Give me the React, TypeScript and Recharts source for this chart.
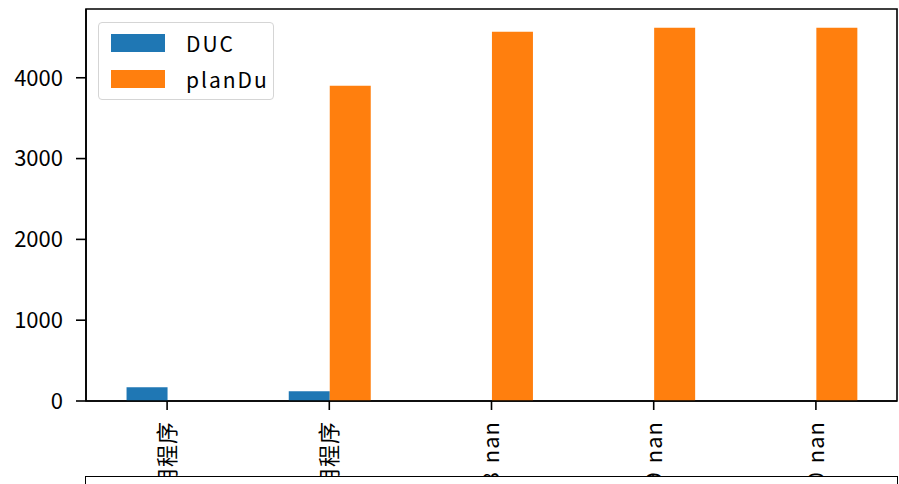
import React from 'react';
import { BarChart, Bar, XAxis, YAxis, ReferenceArea } from 'recharts';

const categories = ['2023-06 应用程序', '2023-07 应用程序', '2023-08 nan', '2023-09 nan', '2023-10 nan'];
const ducValues: (number | null)[] = [170, 120, null, null, null];
const planDuValues: (number | null)[] = [null, 3900, 4570, 4620, 4620];
const yTicks = [0, 1000, 2000, 3000, 4000];
const seriesNames = ['DUC', 'planDu'];
const seriesColors = ['#1f77b4', '#ff7f0e'];
const yMax = 4851;

const data = categories.map((c, i) => ({ cat: c, DUC: ducValues[i], planDu: planDuValues[i] }));

const FONT = "'Noto Sans CJK SC', 'Noto Sans', sans-serif";

const XTick = (props: any) => {
  const { x, y, payload } = props;
  return (
    <g transform={`translate(${x},${y})`}>
      <text
        transform="rotate(-90)"
        x={-11}
        y={0}
        dy="0.36em"
        textAnchor="end"
        fontSize={22}
        fill="#000"
        fontFamily={FONT}
        style={{ wordSpacing: 2, letterSpacing: 1 }}
      >
        {payload.value}
      </text>
    </g>
  );
};

export default function App() {
  return (
    <div style={{ position: 'absolute', left: 0, top: 0, width: 899, height: 484, background: '#fff', overflow: 'hidden' }}>
      <BarChart
        width={899}
        height={484}
        data={data}
        margin={{ top: 9, right: 2, bottom: 0, left: 0 }}
        barCategoryGap="25%"
        barGap={0}
      >
        <XAxis
          dataKey="cat"
          height={83}
          tickSize={9}
          tickMargin={0}
          interval={0}
          tick={<XTick />}
          tickLine={{ stroke: '#000', strokeWidth: 1.6 }}
          axisLine={{ stroke: '#000', strokeWidth: 1.6 }}
        />
        <YAxis
          type="number"
          domain={[0, yMax]}
          ticks={yTicks}
          width={86}
          tickSize={10}
          tickMargin={13}
          tick={{ fontSize: 22, fill: '#000', fontFamily: FONT }}
          tickLine={{ stroke: '#000', strokeWidth: 1.6 }}
          axisLine={{ stroke: '#000', strokeWidth: 1.6 }}
        />
        <Bar dataKey="DUC" name={seriesNames[0]} fill={seriesColors[0]} isAnimationActive={false} />
        <Bar dataKey="planDu" name={seriesNames[1]} fill={seriesColors[1]} isAnimationActive={false} />
        <ReferenceArea
          x1={categories[0]}
          x2={categories[categories.length - 1]}
          y1={0}
          y2={yMax}
          fill="none"
          fillOpacity={0}
          stroke="#000"
          strokeWidth={1.6}
          strokeOpacity={1}
          ifOverflow="visible"
        />
      </BarChart>
      <div
        style={{
          position: 'absolute', left: 98, top: 22, width: 176, height: 78, boxSizing: 'border-box',
          border: '1.5px solid #d5d5d5', borderRadius: 4, background: 'rgba(255,255,255,0.8)',
        }}
      >
        {seriesNames.map((n, i) => (
          <div key={n} style={{ position: 'absolute', left: 0, top: i === 0 ? 11 : 47, height: 18, width: 176 }}>
            <div style={{ position: 'absolute', left: 12, top: 0, width: 54, height: 18, background: seriesColors[i] }} />
            <div style={{ position: 'absolute', left: 87, top: -6, lineHeight: '30px', fontSize: 21, fontFamily: FONT, letterSpacing: 2, color: '#000', whiteSpace: 'nowrap' }}>{n}</div>
          </div>
        ))}
      </div>
      <div
        style={{
          position: 'absolute', left: 85, top: 476, width: 813, height: 40, boxSizing: 'border-box',
          border: '1.6px solid #000', background: '#fff',
        }}
      />
    </div>
  );
}
